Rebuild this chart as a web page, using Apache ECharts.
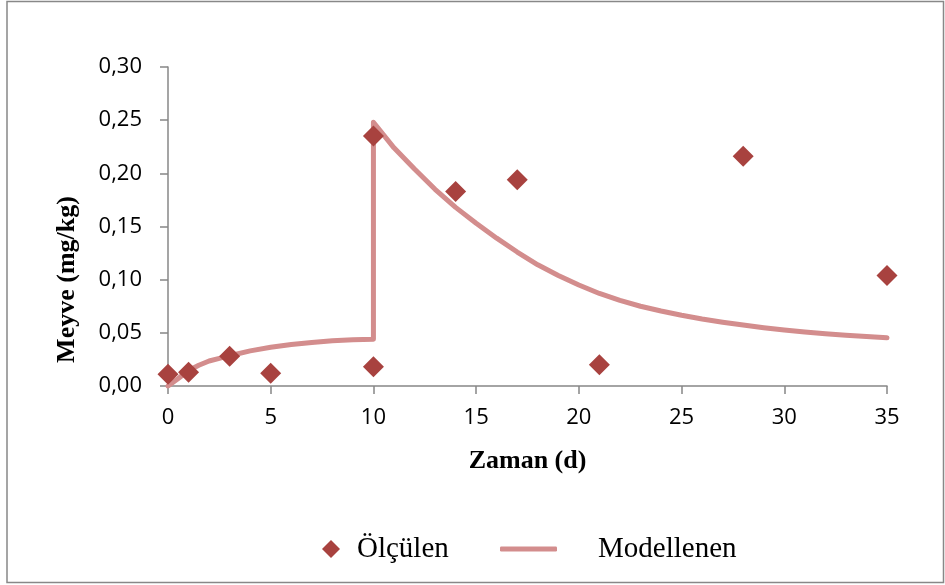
<!DOCTYPE html>
<html>
<head>
<meta charset="utf-8">
<script src="https://cdn.jsdelivr.net/npm/echarts@6/dist/echarts.min.js"></script>
<style>html,body{margin:0;padding:0;background:#fff}#c{width:945px;height:585px}</style>
</head>
<body>
<div id="c"></div>
<script>
// Measured values (Ölçülen)
var measT = [0, 1, 3, 5, 10, 10, 14, 17, 21, 28, 35];
var measV = [0.011, 0.013, 0.028, 0.012, 0.018, 0.235, 0.183, 0.194, 0.020, 0.216, 0.104];
// Model curve (Modellenen)
var modelT = [0, 0.5, 1, 1.5, 2, 2.5, 3, 4, 5, 6, 7, 8, 9, 10,
              10, 11, 12, 13, 14, 15, 16, 17, 18, 19, 20, 21, 22, 23, 24, 25, 26, 27, 28, 29, 30, 31, 32, 33, 34, 35];
var modelV = [0.000, 0.007, 0.0145, 0.0195, 0.0235, 0.026, 0.0285, 0.033, 0.0365, 0.039, 0.041, 0.0425, 0.0435, 0.044,
              0.248, 0.224, 0.204, 0.185, 0.168, 0.153, 0.139, 0.126, 0.114, 0.104, 0.095, 0.087, 0.0805, 0.075, 0.0705,
              0.0665, 0.063, 0.060, 0.0573, 0.0548, 0.0527, 0.0508, 0.0492, 0.0478, 0.0465, 0.0453];
var xTicks = [0, 5, 10, 15, 20, 25, 30, 35];
var yTicks = [0, 0.05, 0.10, 0.15, 0.20, 0.25, 0.30];
var seriesNames = ['Ölçülen', 'Modellenen'];
var axisTitles = {x: 'Zaman (d)', y: 'Meyve (mg/kg)'};

function zip(a, b) { return a.map(function (v, i) { return [v, b[i]]; }); }

var chart = echarts.init(document.getElementById('c'), null, {renderer: 'canvas'});
var axisColor = '#878787';
var tickFont = {fontFamily: 'Open Sans', fontSize: 22, color: '#000'};
var titleFont = {fontFamily: 'Liberation Serif', fontWeight: 'bold', fontSize: 26, color: '#000'};
var lineColor = '#D38D8D';
var markColor = '#A8423F';

chart.setOption({
  animation: false,
  backgroundColor: '#fff',
  graphic: [{
    type: 'rect', shape: {x: 7, y: 1.5, width: 936.5, height: 581}, silent: true,
    style: {fill: 'none', stroke: '#888', lineWidth: 1.5}, z: -10
  }],
  grid: {left: 168, right: 58, top: 67, bottom: 199},
  legend: [{
    data: [{name: seriesNames[0], icon: 'diamond'}], left: 317, top: 528, itemWidth: 18, itemHeight: 18,
    itemStyle: {color: markColor, opacity: 1},
    textStyle: {fontFamily: 'Liberation Serif', fontSize: 29, color: '#000', lineHeight: 32, padding: [0, 0, 0, 12]}
  }, {
    data: [{name: seriesNames[1], icon: 'roundRect'}], left: 495, top: 528, itemWidth: 57, itemHeight: 5,
    itemStyle: {color: lineColor},
    textStyle: {fontFamily: 'Liberation Serif', fontSize: 29, color: '#000', lineHeight: 32, padding: [0, 0, 0, 36]}
  }],
  xAxis: {
    type: 'value', min: xTicks[0], max: xTicks[xTicks.length - 1], interval: 5,
    name: axisTitles.x, nameLocation: 'middle', nameGap: 62, nameTextStyle: titleFont,
    axisLine: {lineStyle: {color: axisColor, width: 1.5}},
    axisTick: {show: true, inside: false, length: 8, lineStyle: {color: axisColor, width: 1.5}},
    axisLabel: Object.assign({margin: 21}, tickFont),
    splitLine: {show: false}
  },
  yAxis: {
    type: 'value', min: yTicks[0], max: yTicks[yTicks.length - 1], interval: 0.05,
    name: axisTitles.y, nameLocation: 'middle', nameGap: 88, nameRotate: 90,
    nameTextStyle: Object.assign({padding: [0, 106, 0, 0]}, titleFont),
    axisLine: {show: true, lineStyle: {color: axisColor, width: 1.5}},
    axisTick: {show: true, inside: false, length: 8, lineStyle: {color: axisColor, width: 1.5}},
    axisLabel: Object.assign({margin: 26, formatter: function (v) { return v.toFixed(2).replace('.', ','); }}, tickFont),
    splitLine: {show: false}
  },
  series: [{
    name: seriesNames[1], type: 'line', data: zip(modelT, modelV), showSymbol: false, symbol: 'none',
    smooth: false, z: 2,
    lineStyle: {color: lineColor, width: 5, cap: 'round', join: 'round'},
    itemStyle: {color: lineColor}
  }, {
    name: seriesNames[0], type: 'scatter', data: zip(measT, measV), symbol: 'diamond', symbolSize: 21, z: 3,
    itemStyle: {color: markColor, opacity: 1}
  }]
});
</script>
</body>
</html>
